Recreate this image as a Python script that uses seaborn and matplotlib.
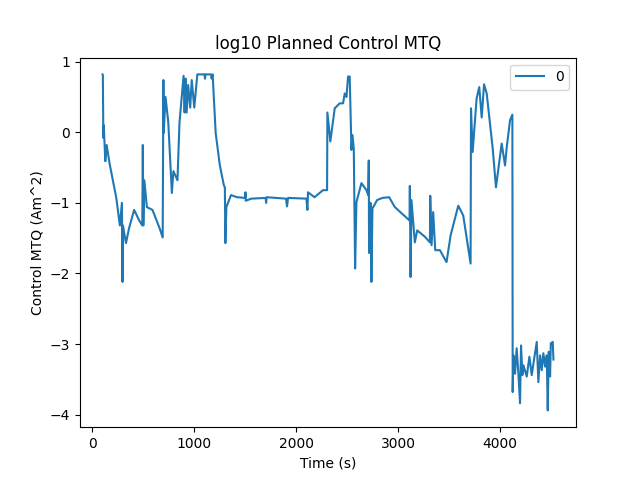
import matplotlib
matplotlib.use("Agg")
import matplotlib.pyplot as plt
import pandas as pd
import seaborn as sns

# time samples (s) and log10 control MTQ values
time_s = [100, 103, 108, 112, 127, 140, 170, 235, 270, 290, 296, 300, 330, 360, 410, 460, 490, 495, 500, 510,
          535, 590, 660, 690, 697, 700, 718, 745, 780, 795, 835, 855, 895, 905, 915, 925, 940, 960, 975, 1000,
          1030, 1100, 1105, 1110, 1165, 1170, 1180, 1210, 1250, 1290, 1300, 1305, 1315, 1360, 1420, 1500, 1502,
          1505, 1560, 1700, 1705, 1710, 1900, 1910, 1920, 2100, 2110, 2116, 2180, 2263, 2303, 2306, 2335, 2378,
          2427, 2460, 2476, 2493, 2509, 2525, 2542, 2552, 2565, 2578, 2591, 2640, 2689, 2706, 2712, 2715, 2729,
          2738, 2748, 2794, 2846, 2912, 2968, 3112, 3115, 3122, 3131, 3164, 3187, 3263, 3312, 3315, 3328, 3344,
          3364, 3410, 3475, 3515, 3590, 3639, 3711, 3715, 3731, 3770, 3796, 3820, 3843, 3869, 3928, 3960, 4016,
          4049, 4065, 4098, 4121, 4124, 4131, 4147, 4163, 4180, 4196, 4206, 4219, 4229, 4262, 4288, 4311, 4327,
          4360, 4376, 4393, 4409, 4425, 4442, 4458, 4468, 4478, 4491, 4498, 4517, 4524]
log_mtq = [0.82, 0.81, -0.08, 0.10, -0.41, -0.18, -0.45, -0.93, -1.32, -1.0, -2.12, -1.32, -1.57, -1.36, -1.1,
           -1.25, -1.32, -0.18, -1.32, -0.68, -1.06, -1.1, -1.36, -1.49, 0.74, -0.01, 0.5, 0.14, -0.86, -0.55,
           -0.68, 0.14, 0.8, 0.28, 0.76, 0.28, 0.67, 0.35, 0.74, 0.35, 0.82, 0.82, 0.76, 0.82, 0.82, 0.76, 0.82,
           -0.01, -0.46, -0.75, -0.78, -1.57, -1.06, -0.89, -0.92, -0.93, -0.85, -0.97, -0.94, -0.93, -1.0, -0.92,
           -0.94, -1.05, -0.93, -0.94, -1.1, -0.85, -0.92, -0.82, -0.82, 0.28, -0.13, 0.34, 0.41, 0.41, 0.55, 0.5,
           0.79, 0.79, -0.25, -0.04, -0.23, -1.93, -0.99, -0.72, -0.82, -0.89, -0.4, -1.71, -1.0, -2.12, -1.08,
           -0.96, -0.93, -0.92, -1.06, -1.25, -0.76, -2.05, -0.96, -1.56, -1.39, -1.48, -1.56, -0.9, -1.6, -1.13,
           -1.67, -1.67, -1.84, -1.46, -1.04, -1.18, -1.86, 0.34, -0.28, 0.48, 0.64, 0.21, 0.68, 0.55, -0.23,
           -0.78, -0.16, -0.47, -0.22, 0.17, 0.25, -3.68, -3.16, -3.42, -3.06, -3.42, -3.84, -3.02, -3.44, -3.30,
           -3.46, -3.18, -3.44, -3.28, -2.97, -3.54, -3.16, -3.37, -3.13, -3.32, -3.16, -3.94, -3.11, -3.46,
           -2.99, -2.97, -3.22]

df = pd.DataFrame({"0": log_mtq}, index=pd.Index(time_s, name="Time (s)"))

fig, ax = plt.subplots(figsize=(6.4, 4.8), dpi=100)
sns.lineplot(data=df, ax=ax, palette=["#1f77b4"], dashes=False, linewidth=1.5)
ax.set_title("log10 Planned Control MTQ")
ax.set_xlabel("Time (s)")
ax.set_ylabel("Control MTQ (Am^2)")
ax.legend(loc="upper right")
plt.savefig("out.png", dpi=100)
